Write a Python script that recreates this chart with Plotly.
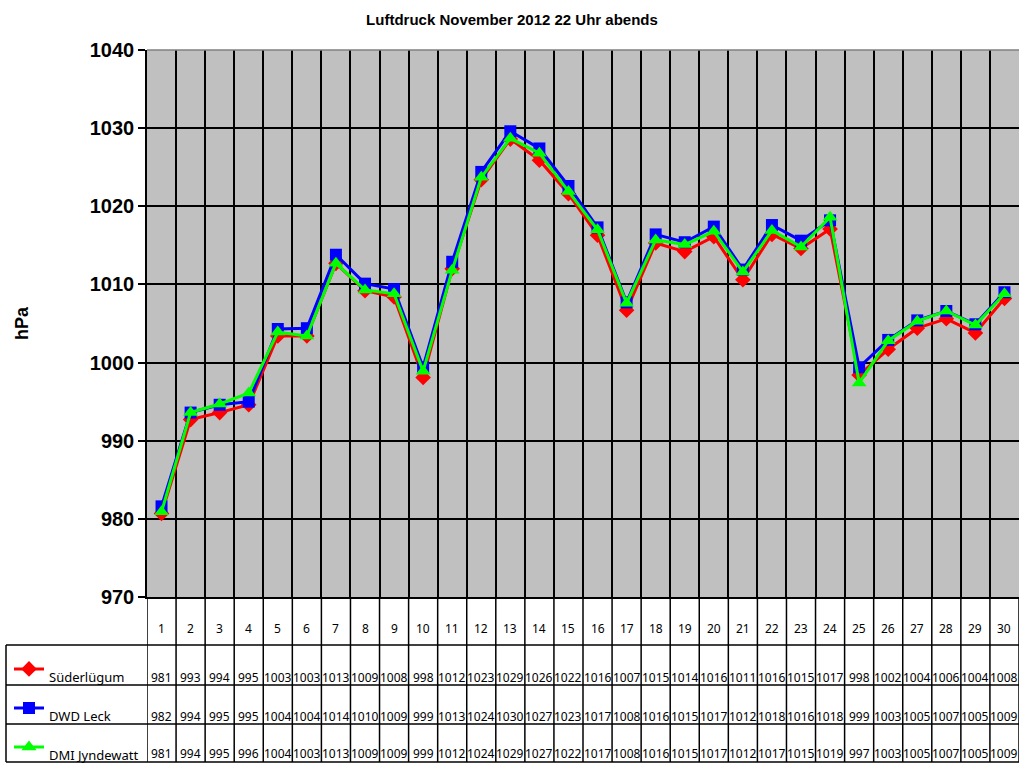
import plotly.graph_objects as go

days = list(range(1, 31))
station_names = ["Süderlügum", "DWD Leck", "DMI Jyndewatt"]

suederluegum = [980.7, 992.7, 993.6, 994.6, 1003.4, 1003.4, 1012.7, 1009.2, 1008.4, 998.1,
                1012.0, 1023.4, 1028.6, 1025.9, 1021.6, 1016.3, 1006.7, 1015.3, 1014.2, 1016.1,
                1010.6, 1016.4, 1014.6, 1017.1, 998.4, 1001.7, 1004.4, 1005.6, 1003.8, 1008.2]
dwd_leck = [981.6, 993.6, 994.6, 995.0, 1004.3, 1004.4, 1013.8, 1010.1, 1009.4, 999.4,
            1012.9, 1024.4, 1029.6, 1027.4, 1022.6, 1017.3, 1007.7, 1016.4, 1015.4, 1017.4,
            1011.9, 1017.6, 1015.6, 1018.2, 999.4, 1002.9, 1005.4, 1006.6, 1004.9, 1009.0]
dmi_jyndewatt = [980.9, 993.6, 994.7, 996.1, 1003.9, 1003.4, 1012.7, 1009.3, 1008.8, 998.9,
                 1011.8, 1023.7, 1028.7, 1026.8, 1021.9, 1017.0, 1007.6, 1015.7, 1015.1, 1016.8,
                 1011.6, 1016.9, 1014.8, 1018.6, 997.4, 1002.8, 1005.3, 1006.6, 1004.8, 1008.8]

# values shown in the data table (rounded hPa)
table_suederluegum = [981, 993, 994, 995, 1003, 1003, 1013, 1009, 1008, 998, 1012, 1023, 1029, 1026, 1022,
                      1016, 1007, 1015, 1014, 1016, 1011, 1016, 1015, 1017, 998, 1002, 1004, 1006, 1004, 1008]
table_dwd_leck = [982, 994, 995, 995, 1004, 1004, 1014, 1010, 1009, 999, 1013, 1024, 1030, 1027, 1023,
                  1017, 1008, 1016, 1015, 1017, 1012, 1018, 1016, 1018, 999, 1003, 1005, 1007, 1005, 1009]
table_dmi_jyndewatt = [981, 994, 995, 996, 1004, 1003, 1013, 1009, 1009, 999, 1012, 1024, 1029, 1027, 1022,
                       1017, 1008, 1016, 1015, 1017, 1012, 1017, 1015, 1019, 997, 1003, 1005, 1007, 1005, 1009]

y_ticks = [970, 980, 990, 1000, 1010, 1020, 1030, 1040]

series = [suederluegum, dwd_leck, dmi_jyndewatt]
tables = [table_suederluegum, table_dwd_leck, table_dmi_jyndewatt]
colors = ["#FF0000", "#0000FF", "#00FF00"]
symbols = ["diamond", "square", "triangle-up"]
msizes = [12, 12, 13]

W, H = 1024, 768
ML, MR, MT, MB = 147, 5, 50, 171
PW, PH = W - ML - MR, H - MT - MB
PLOT_BOTTOM = H - MB


def py(pix):
    return (PLOT_BOTTOM - pix) / PH


def px(pix):
    return (pix - ML) / PW


fig = go.Figure()

row_line_y = [669, 708, 747]
row_text_y = [677, 716, 754]
for i in range(3):
    fig.add_trace(go.Scatter(
        x=days, y=series[i], mode="lines+markers", name="<br>" + station_names[i],
        line=dict(color=colors[i], width=3),
        marker=dict(symbol=symbols[i], size=msizes[i], color=colors[i]),
        legend="legend" if i == 0 else f"legend{i + 1}",
    ))

font_tab = "Noto Sans, DejaVu Sans, sans-serif"
ann = []
# header day numbers
for d in days:
    ann.append(dict(x=d, y=py(628), xref="x", yref="paper", text=str(d), showarrow=False,
                    font=dict(family=font_tab, size=12, color="black"), yanchor="middle"))
for i in range(3):
    for d, v in zip(days, tables[i]):
        ann.append(dict(x=d, y=py(row_text_y[i]), xref="x", yref="paper", text=str(v), showarrow=False,
                        font=dict(family=font_tab, size=12, color="black"), yanchor="middle"))
# y axis title
ann.append(dict(x=px(22), y=py(323), xref="paper", yref="paper", text="<b>hPa</b>", showarrow=False,
                textangle=-90, xanchor="center", yanchor="middle",
                font=dict(family="Liberation Sans, Arial, sans-serif", size=18, color="black")))

shapes = []
line_style = dict(color="black", width=1.5)
# table horizontal lines
for yy in [645, 685, 724, 762]:
    shapes.append(dict(type="line", xref="paper", yref="paper", x0=px(6), x1=1, y0=py(yy), y1=py(yy),
                       line=line_style))
# left border of table
shapes.append(dict(type="line", xref="paper", yref="paper", x0=px(6), x1=px(6), y0=py(645), y1=py(762),
                   line=line_style))
# column boundaries through table
for k in range(31):
    xb = 0.5 + k
    shapes.append(dict(type="line", xref="x", yref="paper", x0=xb, x1=xb, y0=0, y1=py(762),
                       line=line_style))
# top border grey
shapes.append(dict(type="line", xref="paper", yref="paper", x0=0, x1=1, y0=1, y1=1,
                   line=dict(color="#808080", width=1.5)))

legend_common = dict(xref="container", yref="container", x=9 / W, xanchor="left", yanchor="middle",
                     bgcolor="rgba(0,0,0,0)", borderwidth=0, valign="middle",
                     font=dict(family=font_tab, size=13, color="black"))
legends = {}
for i in range(3):
    key = "legend" if i == 0 else f"legend{i + 1}"
    legends[key] = dict(legend_common, y=1 - row_line_y[i] / H)

fig.update_layout(
    width=W, height=H,
    margin=dict(l=ML, r=MR, t=MT, b=MB, autoexpand=False),
    paper_bgcolor="white",
    plot_bgcolor="#C0C0C0",
    title=dict(text="<b>Luftdruck November 2012 22 Uhr abends</b>", x=0.5, xref="container",
               y=1 - 20 / H, yanchor="middle",
               font=dict(family="Liberation Sans, Arial, sans-serif", size=15, color="black")),
    xaxis=dict(range=[0.5, 30.5], tickvals=[0.5 + k for k in range(31)], showticklabels=False,
               showgrid=True, gridcolor="black", gridwidth=1.5, zeroline=False, ticks="",
               showline=True, linecolor="black", linewidth=1.5),
    yaxis=dict(range=[970, 1040], tickvals=y_ticks, ticktext=[str(t) for t in y_ticks],
               showgrid=True, gridcolor="black", gridwidth=1.5, zeroline=False,
               ticks="outside", ticklen=7, tickcolor="black", tickwidth=1.5,
               showline=True, linecolor="black", linewidth=1.5,
               tickfont=dict(family="Liberation Sans, Arial, sans-serif", size=20, color="black", weight="bold")),
    annotations=ann,
    shapes=shapes,
    showlegend=True,
    **legends,
)

fig.write_html("out.html", config={"displayModeBar": False},
               post_script="document.body.style.margin='0';document.body.style.overflow='hidden';")
